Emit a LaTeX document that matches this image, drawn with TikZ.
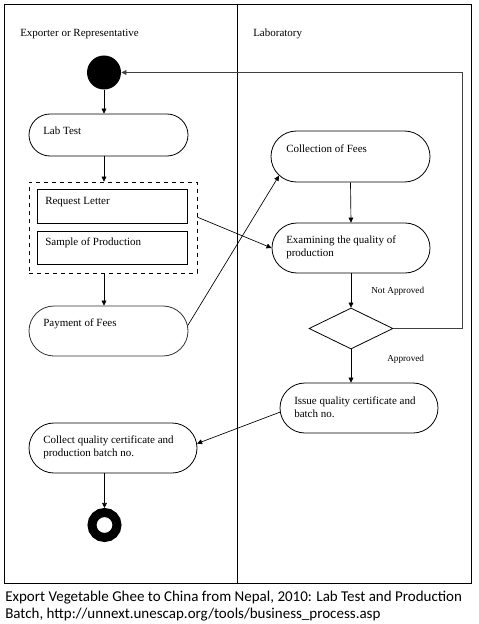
\documentclass[tikz,border=0pt]{standalone}
\usepackage{fontspec}
\setmainfont{Liberation Serif}
\newfontfamily\capfont{Carlito}
\usetikzlibrary{shapes.misc,shapes.geometric,arrows.meta}
\tikzset{
  act/.style={rounded rectangle, draw, inner sep=0pt, line width=0.6pt},
  sbox/.style={rectangle, draw, inner sep=0pt, line width=0.6pt},
  txt/.style={inner sep=0pt, font=\fontsize{8.25}{9.6}\selectfont, anchor=base west},
  mtxt/.style={inner sep=0pt, font=\fontsize{8.25}{9.6}\selectfont, align=left, anchor=north west},
  lbl/.style={inner sep=0pt, font=\fontsize{6.9}{8}\selectfont, anchor=base west},
  arr/.style={-{Triangle[length=3.8pt,width=3.6pt]}, line width=0.5pt},
  captxt/.style={inner sep=0pt, font=\capfont\fontsize{11.25}{13.5}\selectfont, anchor=base west},
  lanes/.style={line width=0.75pt},
}
\begin{document}
\begin{tikzpicture}[x=0.75pt,y=-0.75pt]
\useasboundingbox[fill=white] (0,0) rectangle (478,624);
% swimlanes
\draw[lanes] (4,5) rectangle (471,583);
\draw[lanes] (237,5) -- (237,583);
\node[txt] (lane1) at (20,36.5) {Exporter or Representative};
\node[txt] (lane2) at (253,36.5) {Laboratory};
% nodes
\node[circle, fill=black, inner sep=0pt, minimum size=25.5pt] (start) at (104,72.5) {};
\node[act, minimum width=119.25pt, minimum height=31.5pt] (lab) at (108.5,135) {};
\node[txt] (labt) at (43,134.3) {Lab Test};
\node[sbox, dashed, minimum width=126pt, minimum height=68.25pt] (grp) at (113,227.5) {};
\node[sbox, minimum width=112.5pt, minimum height=25.5pt] (req) at (112,206) {};
\node[txt] (reqt) at (45,204) {Request Letter};
\node[sbox, minimum width=112.5pt, minimum height=24.75pt] (smp) at (112,247.5) {};
\node[txt] (smpt) at (45,245.5) {Sample of Production};
\node[act, draw=black!80, minimum width=119.25pt, minimum height=37.5pt] (pay) at (108.5,331) {};
\node[txt] (payt) at (43,326.7) {Payment of Fees};
\node[act, minimum width=119.25pt, minimum height=38.25pt] (coll) at (350.5,156.5) {};
\node[txt] (collt) at (286,152.5) {Collection of Fees};
\node[act, minimum width=118.5pt, minimum height=37.5pt] (exam) at (351,248) {};
\node[mtxt] (examt) at (286,235.5) {Examining the quality of\\production};
\node[diamond, draw, inner sep=0pt, line width=0.6pt, minimum width=63pt, minimum height=30.75pt] (dec) at (351,328.5) {};
\node[lbl] (na) at (371,293.5) {Not Approved};
\node[lbl] (ap) at (387,361.5) {Approved};
\node[act, minimum width=118.5pt, minimum height=37.5pt] (issue) at (359,408) {};
\node[mtxt] (issuet) at (294,396.8) {Issue quality certificate and\\batch no.};
\node[act, minimum width=126pt, minimum height=37.5pt] (collect) at (113,448) {};
\node[mtxt] (collectt) at (43,435.5) {Collect quality certificate and\\production batch no.};
\node[circle, draw, line width=6.75pt, inner sep=0pt, minimum size=18.75pt] (end) at (104.5,525) {};
\coordinate (fb) at (462,0);
% connectors
\draw[arr] (start) -- (start |- lab.north);
\draw[arr] (start |- lab.south) -- (start |- grp.north);
\draw[arr] (start |- grp.south) -- (start |- pay.north);
\draw[arr] (pay.4) -- (coll.195);
\draw[arr] (grp.7) -- (exam.west);
\draw[arr] (coll.south) -- (exam.north);
\draw[arr] (exam.south) -- (dec.north);
\draw[arr] (dec.south) -- (dec.south |- issue.north);
\draw[arr, draw=black!75] (dec.east) -- (dec.east -| fb) |- (start.east);
\draw[arr] (issue.183) -- (collect.3);
\draw[arr] (end |- collect.south) -- (end);
% caption
\node[captxt] (cap1) at (5,601) {Export Vegetable Ghee to China from Nepal, 2010: Lab Test and Production};
\node[captxt] (cap2) at (5,618.5) {Batch, http://unnext.unescap.org/tools/business\_process.asp};
\end{tikzpicture}
\end{document}
